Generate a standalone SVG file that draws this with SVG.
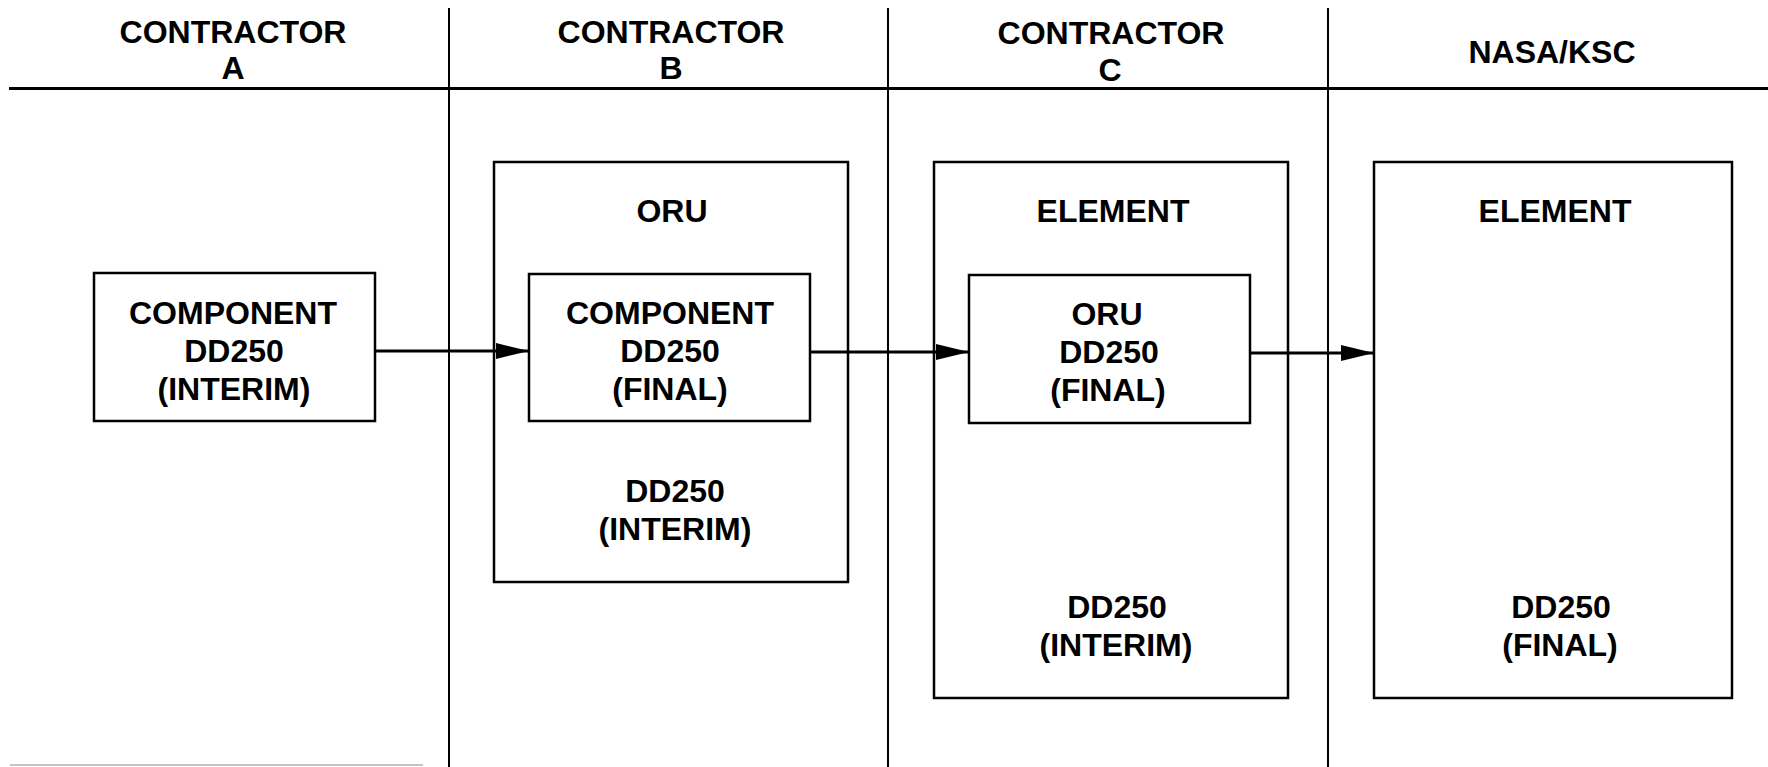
<svg xmlns="http://www.w3.org/2000/svg" width="1768" height="767" viewBox="0 0 1768 767">
<style>
text{font-family:"Liberation Sans",Arial,Helvetica,sans-serif;font-weight:bold;font-size:32px;fill:#000;text-anchor:middle}
.box{fill:none;stroke:#000;stroke-width:2.5}
.sep{stroke:#000;stroke-width:2;fill:none}
.conn{stroke:#000;stroke-width:2.8;fill:none}
</style>
<defs>
<marker id="ah" markerUnits="userSpaceOnUse" markerWidth="34" markerHeight="18" refX="33" refY="8" orient="auto">
<path d="M0,0 L33,8 L0,16 z" fill="#000"/>
</marker>
</defs>
<rect width="1768" height="767" fill="#fff"/>
<g id="lanes">
<line class="sep" x1="9" y1="88.5" x2="1768" y2="88.5" style="stroke-width:3"/>
<line class="sep" x1="449" y1="8" x2="449" y2="767"/>
<line class="sep" x1="888" y1="8" x2="888" y2="767"/>
<line class="sep" x1="1328" y1="8" x2="1328" y2="767"/>
<line x1="10" y1="765" x2="423" y2="765" stroke="#b0b0b0" stroke-width="1.5"/>
<text x="233" y="43">CONTRACTOR</text>
<text x="233" y="79">A</text>
<text x="671" y="43">CONTRACTOR</text>
<text x="671" y="79">B</text>
<text x="1111" y="44">CONTRACTOR</text>
<text x="1110" y="81">C</text>
<text x="1552" y="63">NASA/KSC</text>
</g>
<g id="compA">
<rect class="box" x="94" y="273" width="281" height="148"/>
<text x="233" y="324">COMPONENT</text>
<text x="234" y="362">DD250</text>
<text x="234" y="400">(INTERIM)</text>
</g>
<g id="oruB">
<rect class="box" x="494" y="162" width="354" height="420"/>
<text x="672" y="222">ORU</text>
<text x="675" y="502">DD250</text>
<text x="675" y="540">(INTERIM)</text>
</g>
<g id="compB">
<rect class="box" x="529" y="274" width="281" height="147"/>
<text x="670" y="324">COMPONENT</text>
<text x="670" y="362">DD250</text>
<text x="670" y="400">(FINAL)</text>
</g>
<g id="elementC">
<rect class="box" x="934" y="162" width="354" height="536"/>
<text x="1113" y="222">ELEMENT</text>
<text x="1117" y="618">DD250</text>
<text x="1116" y="656">(INTERIM)</text>
</g>
<g id="oruC">
<rect class="box" x="969" y="275" width="281" height="148"/>
<text x="1107" y="325">ORU</text>
<text x="1109" y="363">DD250</text>
<text x="1108" y="401">(FINAL)</text>
</g>
<g id="elementNASA">
<rect class="box" x="1374" y="162" width="358" height="536"/>
<text x="1555" y="222">ELEMENT</text>
<text x="1561" y="618">DD250</text>
<text x="1560" y="656">(FINAL)</text>
</g>
<g id="connectors">
<line class="conn" x1="375" y1="351" x2="529" y2="351" marker-end="url(#ah)"/>
<line class="conn" x1="810" y1="352" x2="969" y2="352" marker-end="url(#ah)"/>
<line class="conn" x1="1250" y1="353" x2="1374" y2="353" marker-end="url(#ah)"/>
</g>
</svg>
